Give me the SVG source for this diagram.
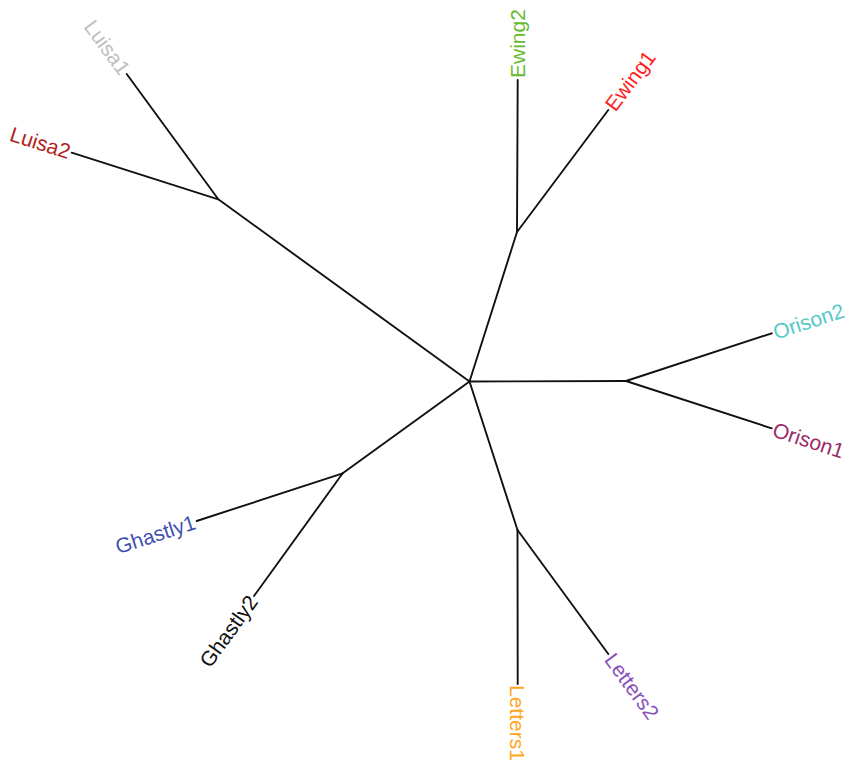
<svg xmlns="http://www.w3.org/2000/svg" width="848" height="763" viewBox="0 0 848 763">
<style>
.e{stroke:#111;stroke-width:1.9;fill:none;stroke-linecap:round}
text{font-family:"Liberation Sans",Arial,sans-serif;font-size:21px}
</style>
<rect width="848" height="763" fill="#fff"/>
<g id="connectors">
<line class="e" x1="469.5" y1="381.5" x2="218.3" y2="199.3"/>
<line class="e" x1="218.3" y1="199.3" x2="126.7" y2="74"/>
<line class="e" x1="218.3" y1="199.3" x2="71.7" y2="152.7"/>
<line class="e" x1="469.5" y1="381.5" x2="517" y2="232"/>
<line class="e" x1="517" y1="232" x2="517.7" y2="80"/>
<line class="e" x1="517" y1="232" x2="608.3" y2="110"/>
<line class="e" x1="469.5" y1="381.5" x2="626" y2="381"/>
<line class="e" x1="626" y1="381" x2="771.7" y2="333.3"/>
<line class="e" x1="626" y1="381" x2="771.7" y2="428.3"/>
<line class="e" x1="469.5" y1="381.5" x2="342.7" y2="473.3"/>
<line class="e" x1="342.7" y1="473.3" x2="196.7" y2="521"/>
<line class="e" x1="342.7" y1="473.3" x2="254" y2="596"/>
<line class="e" x1="469.5" y1="381.5" x2="517.5" y2="530"/>
<line class="e" x1="517.5" y1="530" x2="517.7" y2="684"/>
<line class="e" x1="517.5" y1="530" x2="608.3" y2="654"/>
</g>
<g id="Luisa1"><text transform="translate(126.7,74) rotate(53.9)" x="-2" dy="0.35em" text-anchor="end" fill="#bebebe">Luisa1</text></g>
<g id="Luisa2"><text transform="translate(71.7,152.7) rotate(17.6)" x="-2" dy="0.35em" text-anchor="end" fill="#b22222">Luisa2</text></g>
<g id="Ewing2"><text transform="translate(517.7,80) rotate(-90)" x="2" dy="0.35em" fill="#66bb2e">Ewing2</text></g>
<g id="Ewing1"><text transform="translate(608.3,110) rotate(-53.2)" x="2" dy="0.35em" fill="#ff2020">Ewing1</text></g>
<g id="Orison2"><text transform="translate(771.7,333.3) rotate(-18.1)" x="2" dy="0.35em" fill="#55c8c8">Orison2</text></g>
<g id="Orison1"><text transform="translate(771.7,428.3) rotate(18)" x="2" dy="0.35em" fill="#9b2a6a">Orison1</text></g>
<g id="Ghastly1"><text transform="translate(196.7,521) rotate(-18.1)" x="-2" dy="0.35em" text-anchor="end" fill="#3f51b0">Ghastly1</text></g>
<g id="Ghastly2"><text transform="translate(254,596) rotate(-54.1)" x="-2" dy="0.35em" text-anchor="end" fill="#111">Ghastly2</text></g>
<g id="Letters1"><text transform="translate(517.7,684) rotate(90)" x="1" dy="0.35em" fill="#ffa520">Letters1</text></g>
<g id="Letters2"><text transform="translate(608.3,654) rotate(53.8)" x="2" dy="0.35em" fill="#8a4fb8">Letters2</text></g>
</svg>
